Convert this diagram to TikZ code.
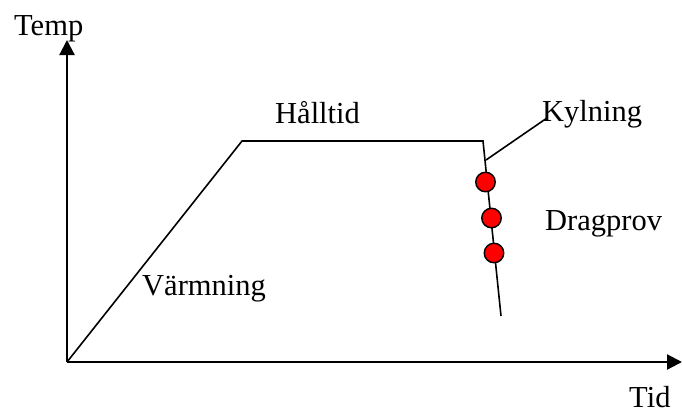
\documentclass[tikz,border=0pt]{standalone}
\usepackage{fontspec}
\setmainfont{Liberation Serif}
\usetikzlibrary{arrows.meta}
\begin{document}
\begin{tikzpicture}[x=1pt,y=-1pt,
  axis/.style={line width=2.2pt,-{Triangle[length=15pt,width=15pt]}},
  curve/.style={line width=1.6pt},
  lbl/.style={anchor=base west,inner sep=0pt,font=\fontsize{30.5}{36}\selectfont},
  sample/.style={circle,draw=black,line width=1.4pt,fill=red,minimum size=19.5pt,inner sep=0pt}]
\useasboundingbox (0,0) rectangle (682,413);
% axes
\coordinate (O) at (67,362);
\coordinate (ytop) at (67,40);
\coordinate (xend) at (682,362);
\draw[axis] (O) -- (ytop);
\draw[axis] (O) -- (xend);
\node[lbl] (temp) at (14,35) {Temp};
\node[lbl] (tid) at (629,407) {Tid};
% temperature profile
\coordinate (c1) at (242,141);
\coordinate (c2) at (483,141);
\coordinate (c3) at (501,316);
\draw[curve,line join=miter] (O) -- (c1) -- (c2) -- (c3);
\node[lbl] (hold) at (275,123) {Hålltid};
\node[lbl] (heat) at (142,295) {Värmning};
% cooling label with leader
\node[lbl] (cool) at (542,121) {Kylning};
\coordinate (k1) at (486,160);
\coordinate (k2) at (547,118);
\draw[curve] (k1) -- (k2);
% tensile test samples
\node[sample] (s1) at (485.5,182) {};
\node[sample] (s2) at (491.5,218) {};
\node[sample] (s3) at (494,253) {};
\node[lbl] (drag) at (545,230) {Dragprov};
\end{tikzpicture}
\end{document}
